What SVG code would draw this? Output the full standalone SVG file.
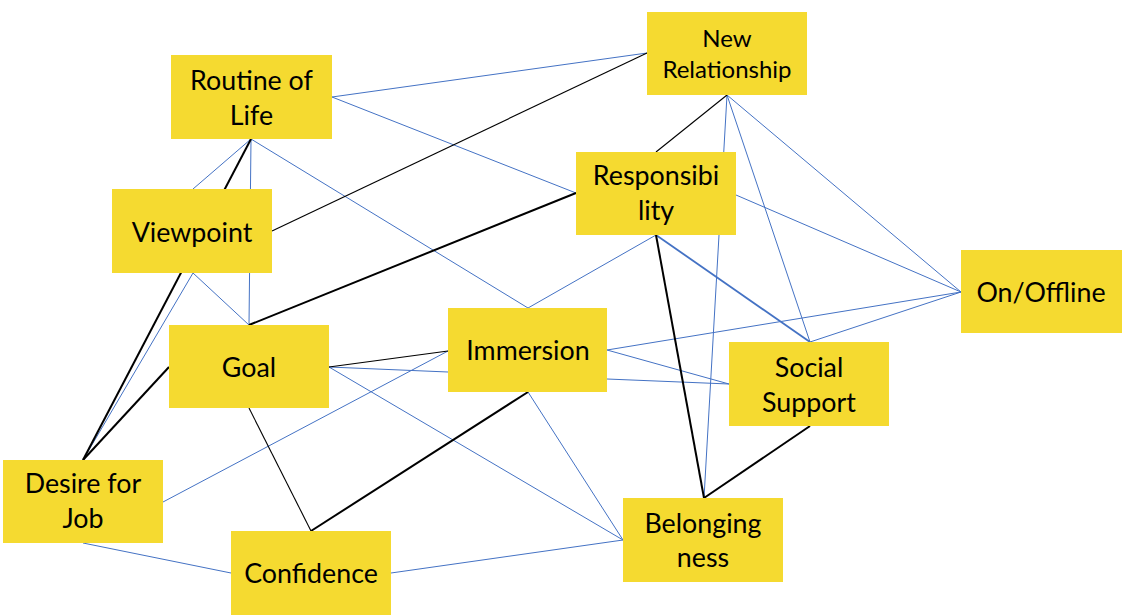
<svg xmlns="http://www.w3.org/2000/svg" width="1141" height="615" viewBox="0 0 1141 615">
<style>
.b{stroke:#4472C4;stroke-width:1;fill:none}
.bt{stroke:#4472C4;stroke-width:1.8;fill:none}
.k{stroke:#000;stroke-width:2;fill:none}
.kt{stroke:#000;stroke-width:1.1;fill:none}
.box{fill:#F5DA30}
text{font-family:Lato,"Open Sans",sans-serif;font-size:26.8px;fill:#000;text-anchor:middle}
.sm{font-size:24px}
</style>
<rect width="1141" height="615" fill="#fff"/>
<g id="connectors">
<line class="b" x1="251" y1="139" x2="193" y2="189"/>
<line class="b" x1="251" y1="139" x2="249" y2="325"/>
<line class="b" x1="251" y1="139" x2="528" y2="308"/>
<line class="b" x1="332" y1="97" x2="647" y2="53"/>
<line class="b" x1="332" y1="97" x2="576" y2="193"/>
<line class="b" x1="193" y1="273" x2="249" y2="325"/>
<line class="b" x1="193" y1="273" x2="83" y2="460"/>
<line class="b" x1="329" y1="367" x2="448" y2="372"/>
<line class="b" x1="329" y1="367" x2="623" y2="540"/>
<line class="b" x1="163" y1="502" x2="448" y2="351"/>
<line class="b" x1="83" y1="543" x2="231" y2="573"/>
<line class="b" x1="391" y1="573" x2="623" y2="540"/>
<line class="b" x1="528" y1="392" x2="623" y2="540"/>
<line class="b" x1="528" y1="308" x2="656" y2="235"/>
<line class="b" x1="607" y1="350" x2="961" y2="292"/>
<line class="b" x1="607" y1="350" x2="729" y2="384"/>
<line class="b" x1="607" y1="379" x2="729" y2="384"/>
<line class="b" x1="704" y1="498" x2="727" y2="95"/>
<line class="b" x1="727" y1="95" x2="810" y2="342"/>
<line class="b" x1="727" y1="95" x2="961" y2="292"/>
<line class="b" x1="736" y1="195" x2="961" y2="292"/>
<line class="b" x1="810" y1="342" x2="961" y2="292"/>
<line class="bt" x1="656" y1="235" x2="810" y2="342"/>
<line class="k" x1="251" y1="139" x2="83" y2="460"/>
<line class="k" x1="249" y1="325" x2="576" y2="193"/>
<line class="k" x1="169" y1="367" x2="83" y2="460"/>
<line class="k" x1="311" y1="531" x2="528" y2="392"/>
<line class="k" x1="704" y1="498" x2="656" y2="235"/>
<line class="k" x1="704" y1="498" x2="810" y2="426"/>
<line class="kt" x1="272" y1="231" x2="647" y2="53"/>
<line class="kt" x1="329" y1="367" x2="448" y2="351"/>
<line class="kt" x1="249" y1="408" x2="311" y2="531"/>
<line class="kt" x1="727" y1="95" x2="656" y2="152"/>
</g>
<g id="routine">
<rect class="box" x="171" y="55" width="161" height="84"/>
<text x="251.5" y="90">Routine of</text>
<text x="251.5" y="125">Life</text>
</g>
<g id="newrel">
<rect class="box" x="647" y="12" width="160" height="83"/>
<text class="sm" x="727" y="47">New</text>
<text class="sm" x="727" y="78">Relationship</text>
</g>
<g id="viewpoint">
<rect class="box" x="112" y="189" width="160" height="84"/>
<text x="192" y="242">Viewpoint</text>
</g>
<g id="responsibility">
<rect class="box" x="576" y="152" width="160" height="83"/>
<text x="656" y="185">Responsibi</text>
<text x="656" y="220">lity</text>
</g>
<g id="goal">
<rect class="box" x="169" y="325" width="160" height="83"/>
<text x="249" y="377">Goal</text>
</g>
<g id="immersion">
<rect class="box" x="448" y="308" width="159" height="84"/>
<text x="528" y="360">Immersion</text>
</g>
<g id="onoffline">
<rect class="box" x="961" y="250" width="161" height="83"/>
<text x="1041" y="302">On/Offline</text>
</g>
<g id="social">
<rect class="box" x="729" y="342" width="160" height="84"/>
<text x="809" y="377">Social</text>
<text x="809" y="412">Support</text>
</g>
<g id="desire">
<rect class="box" x="3" y="460" width="160" height="83"/>
<text x="83" y="493">Desire for</text>
<text x="83" y="528">Job</text>
</g>
<g id="belonging">
<rect class="box" x="623" y="498" width="160" height="84"/>
<text x="703" y="533">Belonging</text>
<text x="703" y="567">ness</text>
</g>
<g id="confidence">
<rect class="box" x="231" y="531" width="160" height="84"/>
<text x="311" y="583">Confidence</text>
</g>
</svg>
